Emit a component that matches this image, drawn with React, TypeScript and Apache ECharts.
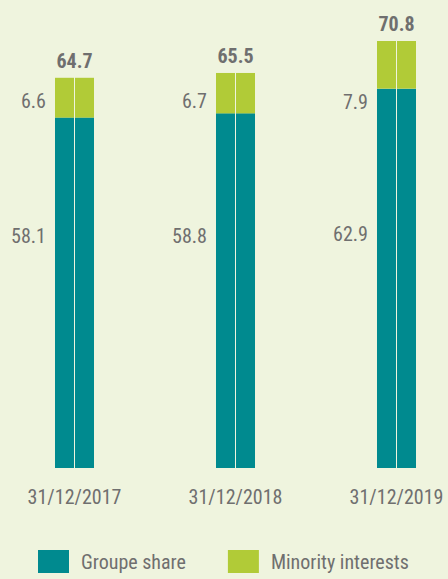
import React, { useEffect, useRef } from "react";
import * as echarts from "echarts";

const categories = ["31/12/2017", "31/12/2018", "31/12/2019"];
const groupeShare = [58.1, 58.8, 62.9];
const minorityInterests = [6.6, 6.7, 7.9];
const totals = [64.7, 65.5, 70.8];
// vertical nudges of the side labels (styling, pixels)
const groupeLabelShift = [-57, -55, -44];
const minorityLabelShift = [3, 8, 37];

const TEAL = "#008a8f";
const LIME = "#b1cb37";
const TEXT = "#6f6f6f";
const BG = "#eff4de";
const FONT = "'Liberation Sans Narrow', 'Arial Narrow', 'Roboto Condensed', Roboto, sans-serif";

export default function App() {
  const ref = useRef<HTMLDivElement>(null);
  useEffect(() => {
    if (!ref.current) return;
    const chart = echarts.init(ref.current, null, { renderer: "svg" });
    const sideLabel = (shift: number) => ({
      show: true,
      position: "left",
      distance: 9,
      offset: [0, shift],
      color: TEXT,
      fontSize: 20,
      fontFamily: FONT,
    });
    chart.setOption({
      animation: false,
      backgroundColor: BG,
      grid: { left: 74.5, right: 51.5, top: 41, bottom: 111 },
      legend: {
        left: 38,
        top: 550,
        padding: 0,
        itemWidth: 31,
        itemHeight: 23,
        itemGap: 42,
        icon: "rect",
        data: ["Groupe share", "Minority interests"],
        textStyle: { color: TEXT, fontSize: 20, fontFamily: FONT, padding: [0, 0, 0, 7] },
      },
      xAxis: {
        type: "category",
        data: categories,
        boundaryGap: false,
        axisLine: { show: false },
        axisTick: { show: false },
        axisLabel: { color: TEXT, fontSize: 20, fontFamily: FONT, margin: 19 },
      },
      yAxis: { type: "value", min: 0, max: 70.8, show: false, splitLine: { show: false } },
      series: [
        {
          name: "Groupe share",
          type: "bar",
          stack: "L",
          barWidth: 19,
          barGap: "5.3%",
          itemStyle: { color: TEAL },
          data: groupeShare.map((v, i) => ({ value: v, label: sideLabel(groupeLabelShift[i]) })),
        },
        {
          name: "Minority interests",
          type: "bar",
          stack: "L",
          barWidth: 19,
          barGap: "5.3%",
          itemStyle: { color: LIME },
          data: minorityInterests.map((v, i) => ({ value: v, label: sideLabel(minorityLabelShift[i]) })),
        },
        {
          name: "Groupe share",
          type: "bar",
          stack: "R",
          barWidth: 19,
          barGap: "5.3%",
          itemStyle: { color: TEAL },
          data: groupeShare,
        },
        {
          name: "Minority interests",
          type: "bar",
          stack: "R",
          barWidth: 19,
          barGap: "5.3%",
          itemStyle: { color: LIME },
          data: minorityInterests.map((v, i) => ({
            value: v,
            label: {
              show: true,
              position: "top",
              distance: 7,
              offset: [-10, 0],
              formatter: () => totals[i].toFixed(1),
              color: TEXT,
              fontSize: 20,
              fontWeight: "bold",
              fontFamily: FONT,
            },
          })),
        },
      ],
    });
    return () => chart.dispose();
  }, []);
  return (
    <div
      ref={ref}
      style={{ position: "fixed", left: 0, top: 0, width: 448, height: 579 }}
    />
  );
}
